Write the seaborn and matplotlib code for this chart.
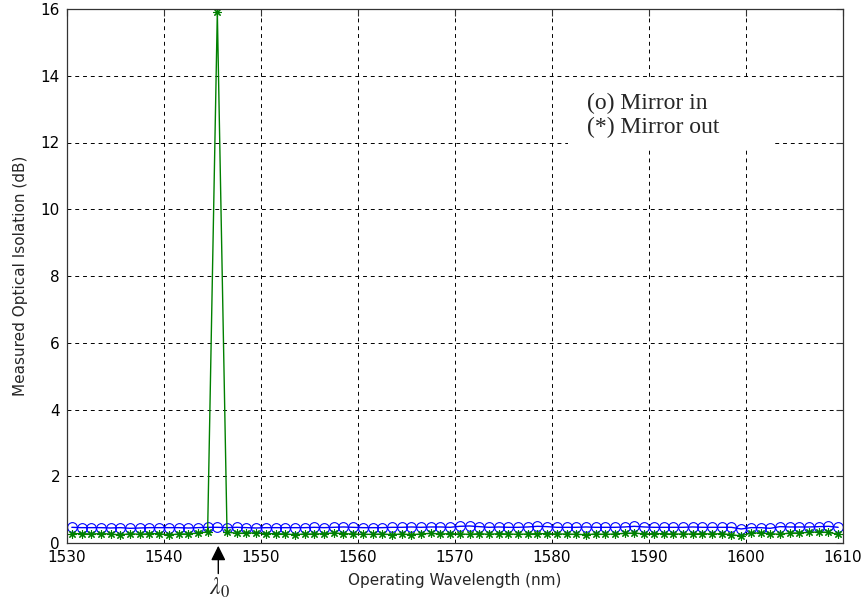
import numpy as np
import matplotlib
matplotlib.use("Agg")
import matplotlib.pyplot as plt
import matplotlib.patches as mpatches
import seaborn as sns

# wavelength samples (nm), 1 nm steps
wavelength = np.arange(1530.5, 1610.0, 1.0)

# mirror in (o) - blue circles
mirror_in = [0.47, 0.46, 0.46, 0.46, 0.45, 0.46, 0.44, 0.45, 0.46, 0.46,
             0.46, 0.46, 0.45, 0.46, 0.47, 0.47, 0.46, 0.47, 0.46, 0.45,
             0.46, 0.46, 0.46, 0.46, 0.46, 0.47, 0.46, 0.47, 0.48, 0.47,
             0.46, 0.46, 0.46, 0.47, 0.47, 0.48, 0.47, 0.48, 0.48, 0.47,
             0.50, 0.51, 0.49, 0.47, 0.48, 0.47, 0.47, 0.48, 0.50, 0.49,
             0.47, 0.47, 0.47, 0.48, 0.47, 0.47, 0.47, 0.48, 0.50, 0.48,
             0.47, 0.47, 0.47, 0.47, 0.48, 0.47, 0.47, 0.47, 0.47, 0.42,
             0.46, 0.46, 0.44, 0.49, 0.48, 0.48, 0.48, 0.49, 0.50, 0.47]

# mirror out (*) - green stars
mirror_out = [0.28, 0.28, 0.27, 0.28, 0.27, 0.24, 0.28, 0.26, 0.28, 0.28,
              0.24, 0.27, 0.27, 0.30, 0.33, 15.9, 0.33, 0.29, 0.30, 0.30,
              0.28, 0.28, 0.27, 0.25, 0.27, 0.27, 0.28, 0.30, 0.28, 0.27,
              0.26, 0.26, 0.27, 0.25, 0.27, 0.25, 0.27, 0.29, 0.27, 0.28,
              0.27, 0.26, 0.28, 0.26, 0.28, 0.27, 0.26, 0.27, 0.28, 0.28,
              0.27, 0.27, 0.26, 0.25, 0.27, 0.26, 0.27, 0.29, 0.30, 0.27,
              0.28, 0.28, 0.27, 0.27, 0.27, 0.28, 0.27, 0.28, 0.25, 0.21,
              0.30, 0.30, 0.28, 0.26, 0.30, 0.30, 0.32, 0.33, 0.32, 0.26]

lambda0 = 1545.6
xticks = [1530, 1540, 1550, 1560, 1570, 1580, 1590, 1600, 1610]
yticks = [0, 2, 4, 6, 8, 10, 12, 14, 16]

sns.set_style("white")
plt.rcParams['font.family'] = ['DejaVu Sans']

fig = plt.figure(figsize=(8.63, 6.0), dpi=100)
ax = fig.add_axes([0.0776, 0.095, 0.8992, 0.89])

sns.lineplot(x=wavelength, y=mirror_in, ax=ax, color='#0000ff', lw=1.0,
             marker='o', markersize=7, markerfacecolor='none',
             markeredgecolor='#0000ff', markeredgewidth=0.8)
sns.lineplot(x=wavelength, y=mirror_out, ax=ax, color='#008000', lw=1.0,
             marker=(8, 2, 0), markersize=6, markeredgecolor='#008000',
             markeredgewidth=0.8)

ax.set_xlim(1530, 1610)
ax.set_ylim(0, 16)
ax.set_xticks(xticks)
ax.set_yticks(yticks)
ax.tick_params(direction='in', length=5, top=True, right=True, labelsize=11, pad=5,
               color='#333333', labelcolor='black')
ax.grid(True, color='black', linestyle=(0, (4, 4)), linewidth=0.7)
for s in ax.spines.values():
    s.set_color('#333333')
    s.set_linewidth(0.9)

ax.set_xlabel('Operating Wavelength (nm)', fontsize=11, labelpad=6)
ax.set_ylabel('Measured Optical Isolation (dB)', fontsize=11, labelpad=9)

# white box behind the legend text
ax.add_patch(mpatches.Rectangle((0.6456, 0.736), 0.263, 0.131, transform=ax.transAxes,
                                facecolor='white', edgecolor='none', zorder=2))
ax.text(0.670, 0.824, '(o) Mirror in', transform=ax.transAxes, fontsize=17,
        family='Liberation Serif', va='center', zorder=3)
ax.text(0.670, 0.779, '(*) Mirror out', transform=ax.transAxes, fontsize=17,
        family='Liberation Serif', va='center', zorder=3)

# lambda_0 arrow under the axis
ax.annotate('', xy=(lambda0, 0), xytext=(0, -24), textcoords='offset points',
            arrowprops=dict(arrowstyle='-|>', color='black', lw=1.0, mutation_scale=22),
            annotation_clip=False)
ax.annotate(r'$\lambda_0$', xy=(lambda0, 0), xytext=(1, -32), textcoords='offset points',
            ha='center', va='center', fontsize=17, math_fontfamily='stix',
            annotation_clip=False)

fig.savefig('out.png', dpi=100)
